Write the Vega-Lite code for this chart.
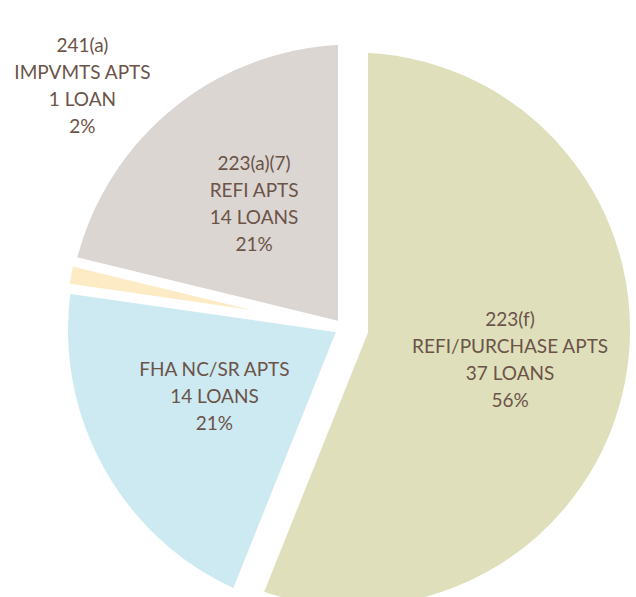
{
  "$schema": "https://vega.github.io/schema/vega-lite/v6.json",
  "autosize": {"type": "none"},
  "width": 566,
  "height": 535,
  "padding": {"left": 70, "top": 62, "right": 0, "bottom": 0},
  "background": "white",
  "config": {"view": {"stroke": null}},
  "data": {
    "values": [
      {"rank": 1, "program": "223(f)", "label": "223(f)|REFI/PURCHASE APTS|37 LOANS|56%", "loans": 37},
      {"rank": 2, "program": "FHA NC/SR", "label": "FHA NC/SR APTS|14 LOANS|21%", "loans": 14},
      {"rank": 3, "program": "241(a)", "label": "241(a)|IMPVMTS APTS|1 LOAN|2%", "loans": 1},
      {"rank": 4, "program": "223(a)(7)", "label": "223(a)(7)|REFI APTS|14 LOANS|21%", "loans": 14}
    ]
  },
  "encoding": {
    "theta": {"field": "loans", "type": "quantitative", "stack": true},
    "order": {"field": "rank", "type": "quantitative"},
    "color": {
      "field": "program",
      "type": "nominal",
      "legend": null,
      "scale": {
        "domain": ["223(f)", "FHA NC/SR", "241(a)", "223(a)(7)"],
        "range": ["#dfe0bb", "#cdeaf2", "#fcebc4", "#dcd6d3"]
      }
    }
  },
  "layer": [
    {
      "mark": {"type": "arc", "radius": 285, "strokeWidth": 0}
    },
    {
      "mark": {"type": "arc", "radius": 292, "stroke": "white", "strokeJoin": "miter"},
      "encoding": {
        "fillOpacity": {"condition": {"test": "datum.rank == 2 || datum.rank == 4", "value": 0}, "value": 1},
        "strokeWidth": {"condition": {"test": "datum.rank == 1", "value": 30}, "value": 0},
        "strokeOpacity": {"condition": {"test": "datum.rank == 2 || datum.rank == 4", "value": 0}, "value": 1}
      }
    },
    {
      "mark": {"type": "arc", "radius": 292, "stroke": "white", "strokeJoin": "miter"},
      "encoding": {
        "fillOpacity": {"condition": {"test": "datum.rank == 3", "value": 1}, "value": 0},
        "strokeWidth": {"condition": {"test": "datum.rank == 3", "value": 10}, "value": 0}
      }
    },
    {
      "mark": {"type": "text", "radius": 160, "dy": -40, "font": "Lato", "fontSize": 19, "lineHeight": 27, "lineBreak": "|", "align": "center", "baseline": "middle"},
      "encoding": {
        "color": {"value": "#6b5348"},
        "text": {"condition": {"test": "datum.rank == 3", "value": ""}, "field": "label"}
      }
    },
    {
      "mark": {"type": "text", "radius": 300, "dx": 24, "dy": -227, "font": "Lato", "fontSize": 19, "lineHeight": 27, "lineBreak": "|", "align": "center", "baseline": "middle"},
      "encoding": {
        "color": {"value": "#6b5348"},
        "text": {"condition": {"test": "datum.rank == 3", "field": "label"}, "value": ""}
      }
    }
  ]
}
